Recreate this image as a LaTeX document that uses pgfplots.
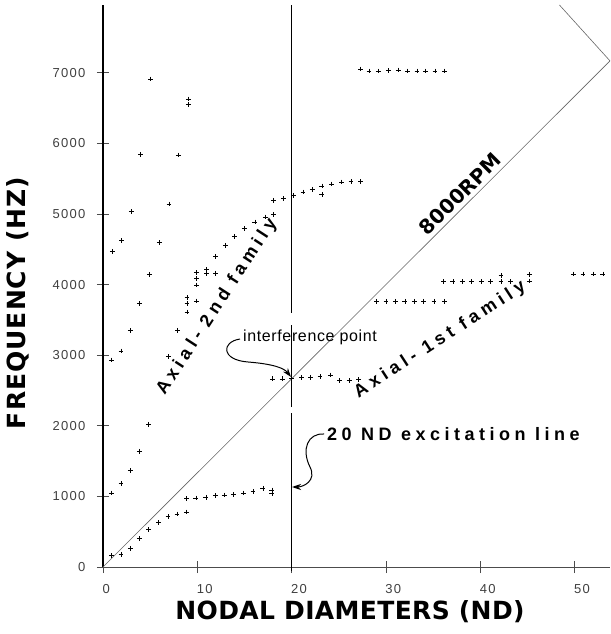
\documentclass[border=0pt]{standalone}
\usepackage{fontspec}
\setmainfont{Liberation Sans}
\newfontfamily\heavyx{DejaVu Sans}[BoldFont={DejaVu Sans Bold}, LetterSpace=1.5]
\newfontfamily\heavyy{DejaVu Sans}[BoldFont={DejaVu Sans Bold}, LetterSpace=4]
\newfontfamily\heavy{DejaVu Sans}[BoldFont={DejaVu Sans Bold}]
\newfontfamily\lsb{Liberation Sans}[LetterSpace=25]
\newfontfamily\lsthin{Liberation Sans}[LetterSpace=10]
\newfontfamily\lsint{Liberation Sans}[LetterSpace=4]
\usepackage{pgfplots}
\pgfplotsset{compat=1.18}
\usetikzlibrary{arrows.meta}
\begin{document}
\begin{tikzpicture}[x=1pt,y=1pt]
\path[use as bounding box] (-103,-67) rectangle (507,567);
\begin{axis}[
  at={(0,0)}, anchor=south west, scale only axis,
  width=507pt, height=562pt,
  xmin=0, xmax=53.76, ymin=0, ymax=7960,
  axis lines*=left,
  axis line style={line width=0.8pt},
  x axis line style={draw=black!70},
  y axis line style={draw=black, line width=1.4pt},
  xtick={0,10,20,30,40,50}, ytick={0,1000,2000,3000,4000,5000,6000,7000},
  tick align=center, major tick length=12pt,
  tick style={black!70, line width=0.7pt},
  /pgf/number format/assume math mode=true,
  /pgf/number format/set thousands separator={},
  xticklabel style={font=\fontsize{13}{14}\selectfont\lsthin, text=black!75, anchor=north west, xshift=-4pt, yshift=-8pt},
  yticklabel style={font=\fontsize{13}{14}\selectfont\lsthin, text=black!75, anchor=east, xshift=-8pt},
  clip=false,
]
% 8000 RPM excitation line and its reflection
\addplot[black!60, line width=0.6pt] coordinates {(0,0) (53.76,7168)};
\addplot[black!60, line width=0.6pt] coordinates {(53.76,7168) (48.4,7960)};
% 20 ND excitation line
\addplot[black, line width=0.9pt] coordinates {(20,-60) (20,2180)};
\addplot[black, line width=0.9pt] coordinates {(20,2265) (20,3430)};
\addplot[black, line width=0.9pt] coordinates {(20,3600) (20,7960)};
% measured modes
\addplot[only marks, mark=+, mark size=2.4pt, line width=0.55pt, black] coordinates {
(0.9,160) (1.9,180) (2.9,265) (3.85,400) (4.85,528) (5.9,628) (6.9,713) (7.85,750) (8.85,780)
(8.85,968) (9.85,977) (10.9,987) (11.9,1010) (12.85,1020) (13.85,1024) (14.9,1048) (15.9,1067) (16.95,1115) (17.9,1090) (17.9,1043)
(0.9,1048) (1.9,1180) (2.9,1364) (3.85,1639) (4.85,2021)
(0.92,2932) (1.91,3060) (2.9,3347) (3.89,3730) (4.9,4145) (5.97,4594) (1.98,4622) (0.99,4471)
(6.93,2979) (7.92,3352) (8.9,3612) (8.9,3730) (8.9,3815) (9.93,3768) (9.93,3994) (9.93,4084) (9.93,4169)
(11,4160) (11,4215) (11.95,4160) (11.95,4396) (12.97,4557) (13.97,4684) (14.99,4792) (16.1,4887) (17.2,4958)
(18.1,4990) (18.1,5194) (19.16,5217) (20.2,5265) (21.2,5312) (22.2,5350) (23.2,5397) (23.2,5274)
(24.25,5425) (25.3,5453) (26.3,5460) (27.3,5458)
(5.06,6912) (9.05,6629) (9.05,6554) (4.0,5840) (7.99,5836) (7.0,5142) (3.0,5033)
(27.3,7054) (28.2,7025) (29.2,7025) (30.3,7030) (31.3,7040) (32.3,7025) (33.3,7025) (34.2,7025) (35.2,7025) (36.2,7025)
(18,2665) (19,2665) (20,2680) (21.06,2686) (22,2686) (23,2696) (24.1,2720) (25.1,2639) (26.1,2639) (27.1,2655)
(29,3763) (30,3763) (31,3763) (32,3763) (33,3763) (34,3763) (35.1,3763) (36.2,3763)
(36.1,4041) (37.1,4041) (38.1,4041) (39.1,4041) (40.1,4041) (41.1,4041) (42.2,4041) (43.2,4041) (42.2,4126) (45.2,4146) (45.2,4051)
(49.9,4150) (50.9,4150) (52,4150) (53,4150)
};
\end{axis}
% axis titles
\node[font=\fontsize{25}{27}\selectfont\heavyx\bfseries] at (247,-45) {NODAL DIAMETERS (ND)};
\node[font=\fontsize{25}{27}\selectfont\heavyy\bfseries, rotate=90] at (-85,264) {FREQUENCY (HZ)};
% annotations
\node[font=\fontsize{20}{22}\selectfont\heavy\bfseries, rotate=45] at (357,373) {8000RPM};
\node[font=\fontsize{18}{20}\selectfont\lsb\bfseries, rotate=57] at (114,260) {Axial-\ 2nd family};
\node[font=\fontsize{18}{20}\selectfont\lsb\bfseries, rotate=33] at (337,227) {Axial-\ 1st family};
\node[font=\fontsize{16}{18}\selectfont\lsint] at (207,230) {interference point};
\node[font=\fontsize{18}{20}\selectfont\lsb\bfseries, anchor=west, inner sep=0pt] at (224,133) {20 ND excitation line};
\draw[line width=1pt, -{Stealth[length=9pt,width=6pt]}] (137,228) .. controls (118,225) and (118,207) .. (145,205) .. controls (170,203) and (181,199) .. (188,190);
\draw[line width=1pt, -{Stealth[length=9pt,width=6pt]}] (221,133) .. controls (205,134) and (198,118) .. (207,100) .. controls (214,86) and (200,80) .. (189,80);
\end{tikzpicture}
\end{document}
